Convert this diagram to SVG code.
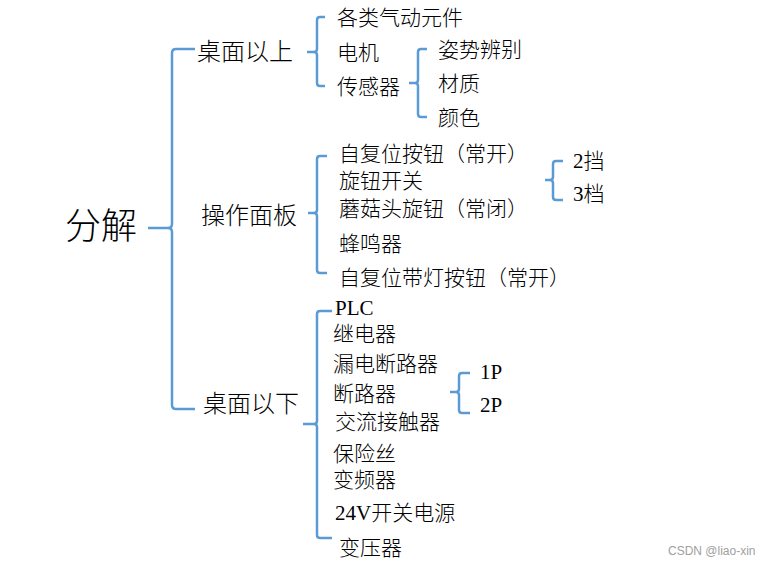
<svg xmlns="http://www.w3.org/2000/svg" width="776" height="564" viewBox="0 0 776 564">
<style>
.t{font-family:"Liberation Serif","Noto Sans CJK SC",serif;fill:#000;font-size:21px;font-weight:300}
.l1{font-size:24px}
.root{font-size:36px}
.br{fill:none;stroke:#5B9BD5;stroke-width:2.5;stroke-linecap:butt;stroke-linejoin:round}
.wm{font-family:"Liberation Sans",Arial,sans-serif;font-size:12px;fill:#a0a0a0}
</style>
<rect width="776" height="564" fill="#fff"/>
<g id="connectors">
<path class="br" d="M195 49 H176 Q172 49 172 53 V224 Q172 228 168 228 H148 M168 228 Q172 228 172 232 V405 Q172 409 176 409 H195"/>
<path class="br" d="M325 17 H320 Q317 17 317 20 V49 Q317 52 314 52 H307 M314 52 Q317 52 317 55 V83 Q317 86 320 86 H325"/>
<path class="br" d="M427 49 H421 Q418 49 418 52 V80 Q418 83 415 83 H409 M415 83 Q418 83 418 86 V114 Q418 117 421 117 H427"/>
<path class="br" d="M327 156 H320 Q317 156 317 159 V210 Q317 213 314 213 H308 M314 213 Q317 213 317 216 V270 Q317 273 320 273 H327"/>
<path class="br" d="M563 161 H556 Q553 161 553 164 V177 Q553 180 550 180 H545 M550 180 Q553 180 553 183 V197 Q553 200 556 200 H563"/>
<path class="br" d="M332 311 H320 Q317 311 317 314 V421 Q317 424 314 424 H303 M314 424 Q317 424 317 427 V535 Q317 538 320 538 H332"/>
<path class="br" d="M470 373 H462 Q459 373 459 376 V389 Q459 392 456 392 H450 M456 392 Q459 392 459 395 V410 Q459 413 462 413 H470"/>
</g>
<g id="n-root"><text class="t root" x="65" y="239">分解</text></g>
<g id="n-above"><text class="t l1" x="197" y="60">桌面以上</text></g>
<g id="n-panel"><text class="t l1" x="201" y="224">操作面板</text></g>
<g id="n-below"><text class="t l1" x="203" y="412">桌面以下</text></g>
<g id="n-pneu"><text class="t" x="337" y="25">各类气动元件</text></g>
<g id="n-motor"><text class="t" x="337" y="60">电机</text></g>
<g id="n-sensor"><text class="t" x="337" y="94">传感器</text></g>
<g id="n-pose"><text class="t" x="438" y="57">姿势辨别</text></g>
<g id="n-material"><text class="t" x="438" y="91">材质</text></g>
<g id="n-color"><text class="t" x="438" y="125">颜色</text></g>
<g id="n-btn1"><text class="t" x="339" y="161">自复位按钮（常开）</text></g>
<g id="n-knob"><text class="t" x="339" y="188">旋钮开关</text></g>
<g id="n-mush"><text class="t" x="339" y="216">蘑菇头旋钮（常闭）</text></g>
<g id="n-buzz"><text class="t" x="339" y="251">蜂鸣器</text></g>
<g id="n-btn2"><text class="t" x="339" y="285">自复位带灯按钮（常开）</text></g>
<g id="n-g2"><text class="t" x="573" y="168">2挡</text></g>
<g id="n-g3"><text class="t" x="573" y="201">3档</text></g>
<g id="n-plc"><text class="t" x="335" y="315">PLC</text></g>
<g id="n-relay"><text class="t" x="333" y="341">继电器</text></g>
<g id="n-rcd"><text class="t" x="333" y="371">漏电断路器</text></g>
<g id="n-cb"><text class="t" x="333" y="401">断路器</text></g>
<g id="n-ac"><text class="t" x="335" y="429">交流接触器</text></g>
<g id="n-fuse"><text class="t" x="333" y="461">保险丝</text></g>
<g id="n-vfd"><text class="t" x="333" y="487">变频器</text></g>
<g id="n-psu"><text class="t" x="335" y="520">24V开关电源</text></g>
<g id="n-trans"><text class="t" x="339" y="555">变压器</text></g>
<g id="n-1p"><text class="t" x="480" y="379">1P</text></g>
<g id="n-2p"><text class="t" x="480" y="412">2P</text></g>
<text class="wm" x="668" y="555">CSDN @liao-xin</text>
</svg>
